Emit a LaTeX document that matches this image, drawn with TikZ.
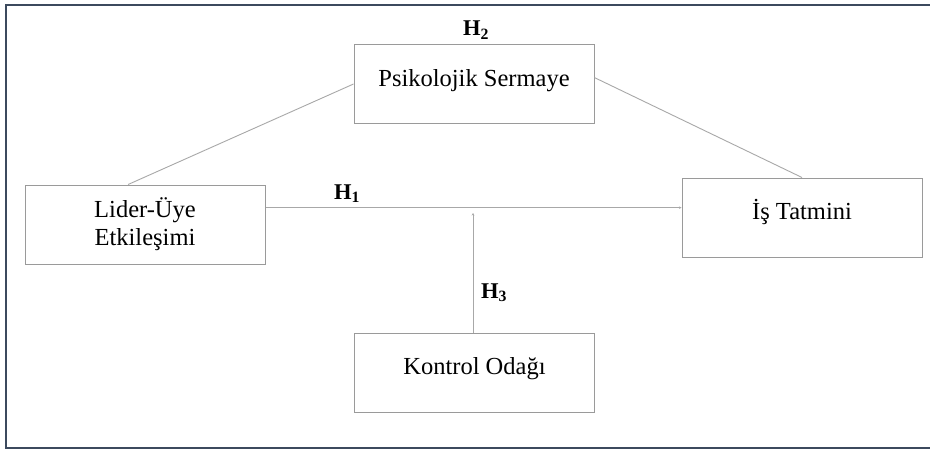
\documentclass[tikz,border=0pt]{standalone}
\usepackage{fontspec}
\setmainfont{Liberation Serif}
\usetikzlibrary{calc,arrows.meta}
\definecolor{framec}{HTML}{3C4A5E}
\definecolor{boxc}{HTML}{9A9A9A}
\definecolor{linec}{HTML}{A8A8A8}
\tikzset{
  box/.style={draw=boxc, line width=1pt, minimum width=240pt, minimum height=79pt, inner sep=0pt, align=center, font=\fontsize{24.5}{28}\selectfont},
  onel/.style={text height=17pt, text depth=13pt},
  conn/.style={draw=linec, line width=0.9pt},
  tip/.style={-{Stealth[length=2.5pt,width=2.5pt]}},
  hlab/.style={font=\fontsize{22.5}{25}\selectfont\bfseries, inner sep=0pt},
}
\begin{document}
\begin{tikzpicture}[x=1pt,y=-1pt]
\useasboundingbox (0,0) rectangle (930,453);
\fill[white] (0,0) rectangle (930,453);
\draw[framec, line width=2pt] (930,4.5) -- (5.5,4.5) -- (5.5,447.5) -- (930,447.5);
\node[box, onel] (P) at (474,84) {Psikolojik Sermaye};
\node[box] (L) at (145,224.5) {Lider-Üye\\Etkileşimi};
\node[box, onel] (T) at (802,217.5) {İş Tatmini};
\node[box, onel] (K) at (474.5,372.5) {Kontrol Odağı};
\coordinate (m) at (473,213);
\draw[conn] ($(L.north west)!0.43!(L.north east)$) -- (P.west);
\draw[conn] ($(P.north east)!0.42!(P.south east)$) -- (T.north);
\draw[conn, tip] ($(L.north east)!0.29!(L.south east)$) coordinate (h1s) -- (T.west |- h1s);
\draw[conn, tip] (K.north -| m) -- (m);
\node[hlab] (H2) at (476,30) {H\textsubscript{2}};
\node[hlab] (H1) at (347,194) {H\textsubscript{1}};
\node[hlab] (H3) at (494,293) {H\textsubscript{3}};
\end{tikzpicture}
\end{document}
